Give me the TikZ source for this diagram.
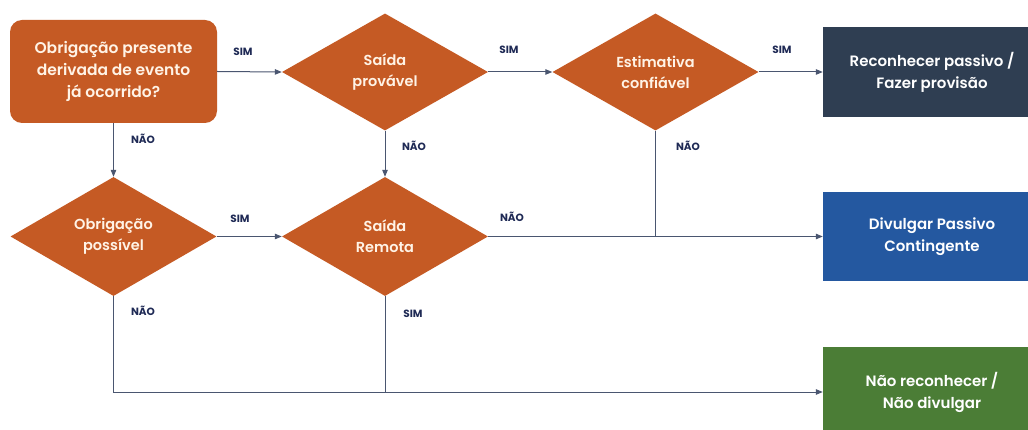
\documentclass[tikz,border=0pt]{standalone}
\usepackage{fontspec}
\setmainfont{Poppins}
\newfontfamily\semib{Poppins SemiBold}
\usetikzlibrary{shapes.geometric,arrows.meta}
\definecolor{orng}{HTML}{C55A24}
\definecolor{navy}{HTML}{2F3E52}
\definecolor{blu}{HTML}{2458A0}
\definecolor{grn}{HTML}{4B7D36}
\definecolor{lbl}{HTML}{1F2A55}
\definecolor{lnc}{HTML}{4A5670}
\definecolor{crm}{HTML}{FFF3E6}
\begin{document}
\begin{tikzpicture}[x=1pt,y=-1pt,
  startbox/.style={rectangle, rounded corners=12pt, fill=orng, draw=none, text=crm, align=center,
    minimum width=207pt, minimum height=103pt, inner sep=0pt, font=\semib\fontsize{15.5}{22}\selectfont},
  dec/.style={diamond, fill=orng, draw=none, inner sep=0pt, text=crm, align=center,
    minimum width=206pt, minimum height=117pt, font=\semib\fontsize{14.5}{21}\selectfont},
  res/.style={rectangle, draw=none, text=white, align=center, inner sep=0pt,
    minimum width=218pt, minimum height=90pt, font=\semib\fontsize{15}{22}\selectfont},
  lab/.style={text=lbl, font=\fontsize{10.5}{12}\selectfont\bfseries, inner sep=0pt},
  ln/.style={draw=lnc, line width=1pt},
  arr/.style={ln, -{Triangle[length=7pt,width=5.5pt]}}
]
\clip (0,0) rectangle (1028,430);
\fill[white] (0,0) rectangle (1028,430);

\node[startbox] (q1) at (113.5,71.5) {Obrigação presente\\derivada de evento\\já ocorrido?};
\node[dec] (d1) at (385,72) {Saída\\provável};
\node[dec] (d2) at (655.5,72) {Estimativa\\confiável};
\node[dec, minimum height=119pt] (d3) at (113.5,236.5) {Obrigação\\possível};
\node[dec, minimum height=119pt] (d4) at (385,236.5) {Saída\\Remota};

\node[res, fill=navy] (r1) at (932,72) {Reconhecer passivo /\\Fazer provisão};
\node[res, fill=blu, minimum height=89pt] (r2) at (932,236.5) {Divulgar Passivo\\Contingente};
\node[res, fill=grn] (r3) at (932,392) {Não reconhecer /\\Não divulgar};

\draw[arr] (q1.east) -- (d1.west);
\draw[arr] (d1.east) -- (d2.west);
\draw[arr] (d2.east) -- (r1.west);
\draw[arr] (q1.south) -- (d3.north);
\draw[arr] (d1.south) -- (d4.north);
\draw[arr] (d3.east) -- (d4.west);
\draw[arr] (d4.east) -- (r2.west);
\coordinate (j1) at (d2.south |- d4.east);
\draw[ln] (d2.south) -- (j1);
\coordinate (j2) at (d3.south |- r3.west);
\draw[arr] (d3.south) -- (j2) -- (r3.west);
\coordinate (j3) at (d4.south |- r3.west);
\draw[ln] (d4.south) -- (j3);

\node[lab] (s1) at (243,52) {SIM};
\node[lab] (s2) at (509,50) {SIM};
\node[lab] (s3) at (782,50) {SIM};
\node[lab] (n1) at (143,139) {NÃO};
\node[lab] (n2) at (414,146) {NÃO};
\node[lab] (n3) at (688,146) {NÃO};
\node[lab] (s4) at (240,219) {SIM};
\node[lab] (n4) at (512,217) {NÃO};
\node[lab] (n5) at (143,311) {NÃO};
\node[lab] (s5) at (413,314) {SIM};
\end{tikzpicture}
\end{document}
